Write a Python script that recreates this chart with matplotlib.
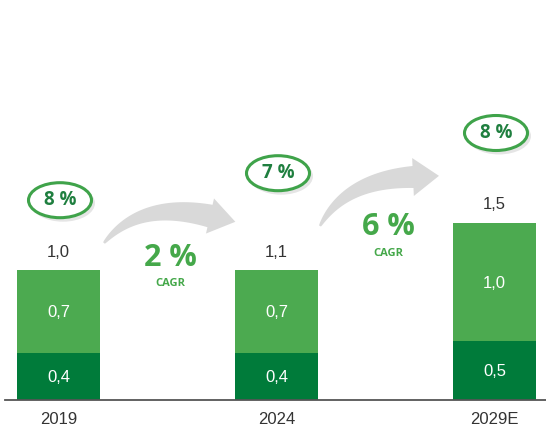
import numpy as np
import matplotlib.pyplot as plt
from matplotlib.patches import Ellipse, Polygon

# data
years = ["2019", "2024", "2029E"]
base_vals = [0.4, 0.4, 0.5]
top_vals = [0.7, 0.7, 1.0]
base_labels = ["0,4", "0,4", "0,5"]
top_labels = ["0,7", "0,7", "1,0"]
total_labels = ["1,0", "1,1", "1,5"]
badge_labels = ["8 %", "7 %", "8 %"]
cagr_labels = ["2 %", "6 %"]

DARK = "#007b3a"
LIGHT = "#4caa50"
GREEN_TXT = "#45a84a"
ARROW = "#d9d9d9"

W, H = 546, 430
fig = plt.figure(figsize=(W / 100, H / 100), dpi=100)

# overlay in pixel coords for the decorative arrows
ax_px = fig.add_axes([0, 0, 1, 1], zorder=0)
ax_px.set_xlim(0, W)
ax_px.set_ylim(H, 0)
ax_px.axis("off")

# main axes: 218 px between bars, 118 px per unit
ax = fig.add_axes([0, 30 / H, 1, 400 / H], zorder=1)
ax.patch.set_alpha(0)
ax.set_xlim(-58.5 / 218, (W - 58.5) / 218)
ax.set_ylim(0, 400 / 118)
ax.axis("off")
px_x = 1 / 218
px_y = 1 / 118


def curved_arrow(p0, c, p2, w_end, head_half, head_len):
    p0, c, p2 = map(np.array, (p0, c, p2))
    t = np.linspace(0, 1, 60)[:, None]
    pts = (1 - t) ** 2 * p0 + 2 * (1 - t) * t * c + t ** 2 * p2
    d = 2 * (1 - t) * (c - p0) + 2 * t * (p2 - c)
    d = d / np.linalg.norm(d, axis=1)[:, None]
    n = np.column_stack([d[:, 1], -d[:, 0]])  # upward normal (screen coords)
    w = (0.1 + 0.9 * t[:, 0] ** 0.8) * w_end / 2
    upper = pts + n * w[:, None]
    lower = pts - n * w[:, None]
    dn, nn = d[-1], n[-1]
    head = [p2 + nn * head_half, p2 + dn * head_len, p2 - nn * head_half]
    poly = np.vstack([upper, head, lower[::-1]])
    ax_px.add_patch(Polygon(poly, closed=True, facecolor=ARROW, edgecolor="none"))


curved_arrow((104, 243), (140, 200), (210, 216), 23, 18, 26)
curved_arrow((320, 226), (345, 180), (413, 177), 22, 19, 26)

x = np.arange(len(years))
bw = 83 / 218
ax.bar(x, base_vals, width=bw, color=DARK, edgecolor="none")
ax.bar(x, top_vals, width=bw, bottom=base_vals, color=LIGHT, edgecolor="none")
ax.axhline(0, xmin=5 / W, xmax=1, color="#555555", lw=1.3, clip_on=False)

num_font = dict(family=["Liberation Sans", "DejaVu Sans"], fontsize=12)
badge_off = [70, 97, 90]
for i in range(len(years)):
    total = base_vals[i] + top_vals[i]
    ax.text(x[i], base_vals[i] / 2 - 1 * px_y, base_labels[i], ha="center", va="center",
            color="white", **num_font)
    ax.text(x[i], base_vals[i] + top_vals[i] / 2 - 1 * px_y, top_labels[i], ha="center",
            va="center", color="white", **num_font)
    ax.text(x[i], total + 18 * px_y, total_labels[i], ha="center", va="center",
            color="#333333", **num_font)
    ax.text(x[i], -20 * px_y, years[i], ha="center", va="center", color="#333333",
            **num_font)
    bx = x[i] + 1.5 * px_x
    by = total + badge_off[i] * px_y
    ax.add_patch(Ellipse((bx + 3 * px_x, by - 3 * px_y), 64 * px_x, 37 * px_y,
                         facecolor="#000000", alpha=0.10, edgecolor="none"))
    ax.add_patch(Ellipse((bx, by), 63 * px_x, 35 * px_y, facecolor="white",
                         edgecolor="#3fa34a", lw=2.2))
    ax.text(bx, by, badge_labels[i], ha="center", va="center", color="#1f7f3f",
            fontsize=13.5, fontweight="bold", family=["Open Sans", "DejaVu Sans"])

# CAGR labels between bars
cagr_pos = [(170, 258), (388, 227)]
for (cx, cy), lab in zip(cagr_pos, cagr_labels):
    ax_px.text(cx, cy, lab, ha="center", va="center", color=GREEN_TXT, fontsize=22,
               fontweight="bold", family=["Open Sans", "DejaVu Sans"])
    ax_px.text(cx, cy + 26, "CAGR", ha="center", va="center", color=GREEN_TXT,
               fontsize=8, fontweight="bold", family=["Open Sans", "DejaVu Sans"])

fig.savefig("out.png", dpi=100)
